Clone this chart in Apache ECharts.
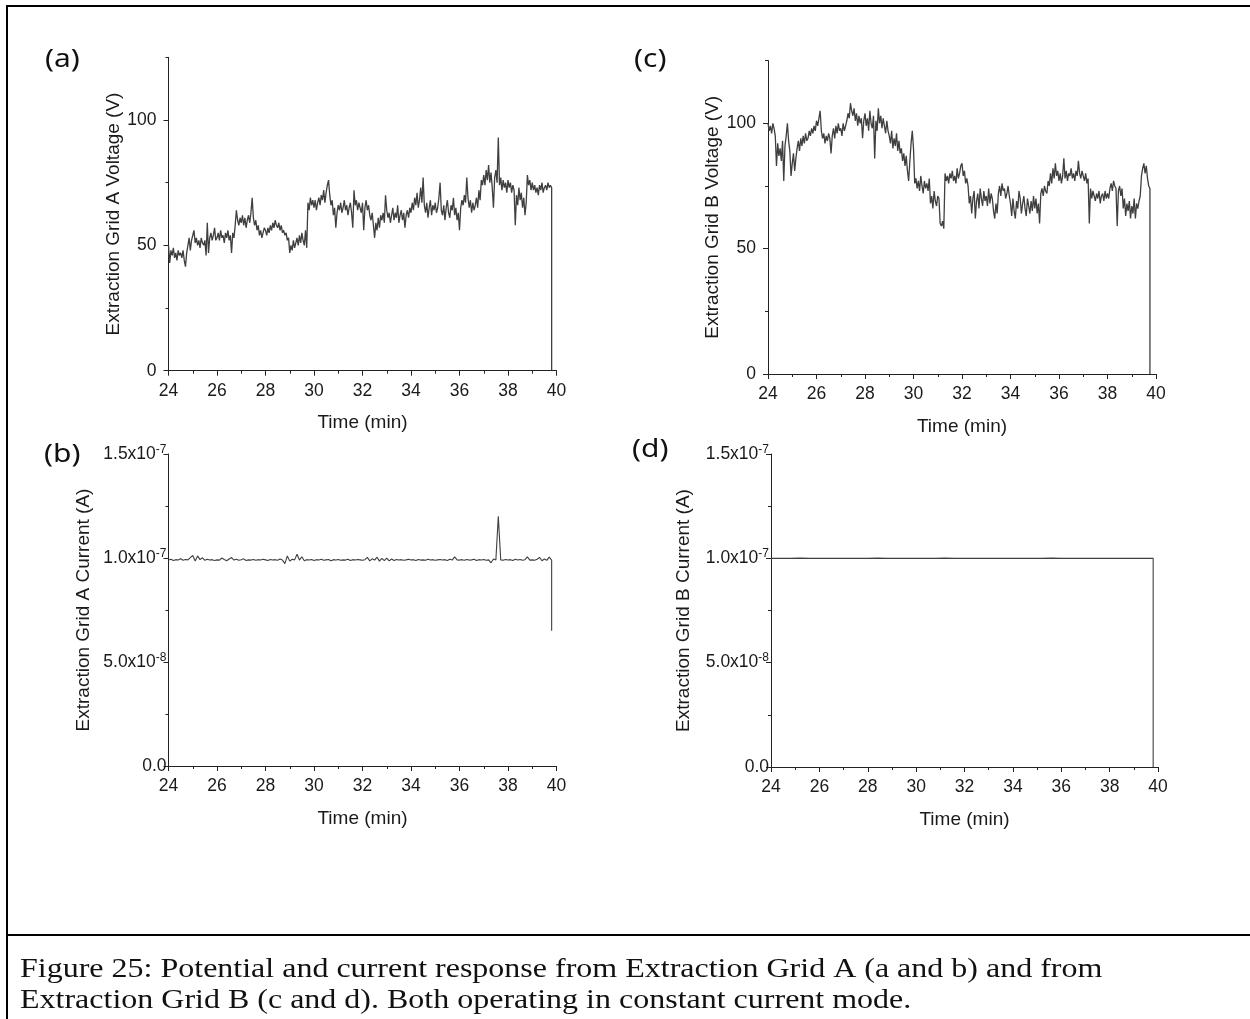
<!DOCTYPE html>
<html><head><meta charset="utf-8">
<script src="https://cdn.jsdelivr.net/npm/echarts@6/dist/echarts.min.js"></script>
<style>html,body{margin:0;padding:0;background:#fff}#c{width:1250px;height:1019px}</style>
</head><body><div id="c"></div><script>
// ---------------- DATA ----------------
const timeStart = 24.0;
const voltageStep = 0.05;     // min between voltage samples
const currentStepA = 0.1;     // min between grid A current samples
const currentStepB = 0.4;     // min between grid B current samples

// Extraction Grid A voltage (V), 24.00 .. 39.80 min
const gridA_voltage_V = [
 50,43,48,46,49,45,47,44,48,46,47,45,48,44,41.5,47,50,53,48,52,
 54,56,51,53,50,52,49,53,51,50,52,46,59,47,53,55,52,54,57,52,
 53,55,52,56,53,54,51,55,53,56,52,54,47,55,53,58,64,60,58,61,
 59,62,58,61,57,60,62,59,63,69,61,58,60,56,58,54,56,53,55,57,
 56,54,57,55,58,56,59,57,60,58,57,59,56,58,55,56,54,55,52,53,
 47,50,48,52,49,51,53,50,54,51,55,52,50,56,49,67,64,69,66,68,
 65,68,64,67,69,66,70,68,72,67,71,74,76,70,66,68,62,65,57,63,
 66,64,67,63,65,68,64,66,62,65,67,63,57,72,66,68,64,67,65,63,
 67,56,65,68,64,66,62,60,63,58,53,59,56,61,57,62,60,63,59,70,
 64,61,63,59,62,65,60,63,61,66,59,62,64,60,63,57,62,64,61,65,
 63,67,64,69,66,71,65,68,73,67,77,66,63,67,61,65,68,62,66,64,
 67,63,65,69,75,64,62,66,60,65,68,63,61,66,64,69,62,65,60,63,
 56,65,68,66,70,67,77,69,65,68,63,67,64,66,69,65,72,68,76,74,
 78,74,80,76,82,75,79,73,65,77,80,75,93,74,77,72,76,73,75,71,
 76,73,75,71,74,72,58,70,66,73,68,71,65,69,62,67,78,74,76,72,
 75,72,74,71,73,70,74,72,75,71,73,74,72,75,73,74,73
];
const gridA_voltage_end = [[39.80, 0]];

// Extraction Grid B voltage (V), 24.00 .. 39.75 min
const gridB_voltage_V = [
 100,97,99,96,100,98,95,83,92,87,90,85,93,77,91,95,100,93,89,79,
 84,88,81,86,90,93,89,94,91,95,92,96,93,94,97,95,98,96,99,97,
 101,99,102,105,97,94,96,92,95,93,96,94,88,95,98,94,99,96,100,97,
 98,95,100,97,99,101,104,102,108,105,103,106,101,104,99,103,100,102,94,101,
 104,99,102,97,105,100,98,103,86,101,97,106,100,103,98,102,99,96,101,97,
 95,92,97,90,94,91,96,89,93,88,90,85,88,83,87,81,77,85,92,97,
 90,76,78,74,77,73,79,75,72,77,74,76,73,78,68,71,66,73,69,67,
 71,70,60,59,61,58,80,77,79,76,80,78,81,77,79,76,82,78,80,83,
 84,79,81,76,78,75,68,71,64,70,73,62,69,72,66,74,70,67,73,69,
 71,67,74,68,72,70,65,62,68,64,72,75,71,76,73,74,70,72,75,71,
 68,63,70,65,62,69,66,73,70,64,68,71,66,63,70,67,64,69,65,71,
 66,70,64,68,60,72,74,71,75,73,72,77,75,80,76,82,78,84,79,81,
 77,80,76,79,86,78,81,77,80,79,82,78,80,77,81,79,85,80,78,81,
 79,77,80,76,78,60,74,70,73,71,69,72,70,73,68,71,72,69,73,70,
 72,70,74,76,73,77,75,74,59,73,75,71,74,66,70,63,68,65,69,62,
 67,64,70,62,68,66,69,71,79,82,84,80,83,78,75,74
];
const gridB_voltage_end = [[39.75, 0]];

// Extraction Grid A current (nA), 24.0 .. 39.8 min
const gridA_current_nA = [
 99,99.4,98.8,99.2,99,99.6,98.9,99.3,99.1,100.2,
 101.2,98.6,101.0,99.2,100.1,98.9,99.4,99.0,99.2,98.8,
 99.1,99.0,100.0,99.3,98.7,99.5,100.2,99.0,99.4,98.9,
 99.2,99.6,98.8,99.1,99.0,99.3,98.9,99.2,99.0,99.4,
 99.1,98.8,99.3,99.0,99.2,98.9,99.5,99.0,97.3,101.0,
 98.5,99.4,99.1,101.8,99.0,100.6,98.7,99.2,99.0,99.3,
 98.8,99.2,99.0,99.4,98.9,99.1,99.3,98.7,99.2,99.0,
 99.3,98.9,99.1,99.0,99.4,98.8,99.2,99.0,99.3,99.1,
 98.9,99.2,100.3,98.6,99.6,99.0,100.4,98.5,99.8,98.7,
 99.9,98.6,99.5,98.8,99.3,99.0,99.2,98.9,99.1,99.4,
 99.0,99.2,98.8,99.3,99.0,99.1,98.9,99.4,99.0,99.2,
 98.9,99.1,99.3,99.0,99.2,98.8,99.4,99.0,100.5,99.1,
 99.0,99.2,98.9,99.3,99.0,99.1,99.4,98.8,99.2,99.0,
 99.3,98.9,99.1,97.7,99.5,99.0,120.0,99.1,98.9,99.3,
 99.0,99.2,98.8,99.4,99.0,99.3,98.9,99.2,100.5,99.0,
 99.1,98.9,99.4,100.3,98.7,99.5,98.9,100.4,99.0
];
const gridA_current_end_nA = [[39.8, 65]];

// Extraction Grid B current (nA), 24.0 .. 39.6 min
const gridB_current_nA = [
 100.0,100.0,100.0,100.1,100.0,100.0,100.0,100.0,100.0,100.0,
 100.0,100.1,100.0,100.0,100.0,100.0,100.0,100.0,100.1,100.0,
 100.0,100.0,100.0,100.0,100.0,100.0,100.0,100.0,100.0,100.1,
 100.0,100.0,100.0,100.0,100.0,100.0,100.0,100.0,100.0,100.0
];
const gridB_current_end_nA = [[39.8, 100.0], [39.8, 0]];

// Axis ticks / labels
const timeTicks = [24, 26, 28, 30, 32, 34, 36, 38, 40];
const voltageMajorTicks = [0, 50, 100];
const voltageMinorTicks = [25, 75, 125];
const currentTicksA = [0, 5e-8, 1e-7, 1.5e-7];

// ---------------- BUILD ----------------
function series(vals, start, step, tail, scale) {
  const s = scale || 1;
  const out = vals.map((v, i) => [+(start + i * step).toFixed(3), v * s]);
  tail.forEach(p => out.push([p[0], p[1] * s]));
  return out;
}
const nA = 1e-9;

const FONT = "'Liberation Sans', Arial, sans-serif";
const TXT = '#1a1a1a';
const AX = '#222';
const LINE = '#3f3f3f';
const TICKFS = 17.5;
const NAMEFS = 19;

const grids = [
  {left: 168.5, top: 57.3, width: 388, height: 313.4},   // a
  {left: 768,   top: 60.6, width: 388, height: 313.4},   // c
  {left: 168.5, top: 454,  width: 388, height: 312},     // b
  {left: 771,   top: 454,  width: 387, height: 313}      // d
];

function xAxis(gi) {
  return {
    type: 'value', gridIndex: gi, min: timeTicks[0], max: timeTicks[timeTicks.length - 1], interval: 2,
    name: 'Time (min)', nameLocation: 'middle', nameGap: 43,
    nameTextStyle: {fontFamily: FONT, fontSize: NAMEFS, color: TXT},
    axisLine: {show: true, onZero: false, lineStyle: {color: AX, width: 1}},
    axisTick: {show: true, length: 5, lineStyle: {color: AX}},
    minorTick: {show: true, splitNumber: 2, length: 3, lineStyle: {color: AX}},
    splitLine: {show: false}, minorSplitLine: {show: false},
    axisLabel: {fontFamily: FONT, fontSize: TICKFS, color: TXT, margin: 11}
  };
}
function voltAxis(gi, name, gap) {
  return {
    type: 'value', gridIndex: gi, min: 0, max: 125, interval: 25, position: 'left',
    name: name, nameLocation: 'middle', nameGap: gap, nameRotate: 90,
    nameTextStyle: {fontFamily: FONT, fontSize: NAMEFS, color: TXT},
    axisLine: {show: true, onZero: false, lineStyle: {color: AX, width: 1}},
    axisTick: {show: true, length: 5, customValues: voltageMajorTicks, lineStyle: {color: AX}},
    splitLine: {show: false},
    axisLabel: {fontFamily: FONT, fontSize: TICKFS, color: TXT, margin: 12, customValues: voltageMajorTicks}
  };
}
function voltMinorAxis(gi) {
  return {
    type: 'value', gridIndex: gi, min: 0, max: 125, interval: 25, position: 'left', offset: 0,
    axisLine: {show: false},
    axisTick: {show: true, length: 3, customValues: voltageMinorTicks, lineStyle: {color: AX}},
    axisLabel: {show: false}, splitLine: {show: false}
  };
}
function sciLabel(v) {
  if (Math.abs(v) < 1e-15) return '{m|0.0}';
  const e = Math.floor(Math.log10(v) + 1e-9);
  const m = v / Math.pow(10, e);
  return '{m|' + m.toFixed(1) + 'x10}{e|' + e + '}';
}
function currAxis(gi, name, gap) {
  return {
    type: 'value', gridIndex: gi, min: currentTicksA[0], max: currentTicksA[3], interval: 5e-8, position: 'left',
    name: name, nameLocation: 'middle', nameGap: gap, nameRotate: 90,
    nameTextStyle: {fontFamily: FONT, fontSize: NAMEFS, color: TXT},
    axisLine: {show: true, onZero: false, lineStyle: {color: AX, width: 1}},
    axisTick: {show: true, length: 5, lineStyle: {color: AX}},
    minorTick: {show: true, splitNumber: 2, length: 3, lineStyle: {color: AX}},
    splitLine: {show: false}, minorSplitLine: {show: false},
    axisLabel: {
      margin: 2, formatter: sciLabel,
      rich: {
        m: {fontFamily: FONT, fontSize: TICKFS, color: TXT, lineHeight: 21},
        e: {fontFamily: FONT, fontSize: 12, color: TXT, lineHeight: 12, verticalAlign: 'top'}
      }
    }
  };
}

function lineSeries(xi, yi, data, w) {
  return {type: 'line', xAxisIndex: xi, yAxisIndex: yi, data: data, symbol: 'none', showSymbol: false,
          lineStyle: {color: LINE, width: w}, animation: false, silent: true};
}

const panelLabelStyle = {fontFamily: "'Noto Sans', 'Open Sans', sans-serif", fontSize: 30, fill: '#111',
                         textAlign: 'left', textVerticalAlign: 'middle', x: 0, y: 0};
const captionStyle = {fontFamily: "'Liberation Serif', 'Times New Roman', serif", fontSize: 32, fill: '#111',
                      textAlign: 'left', textVerticalAlign: 'middle', x: 0, y: 0};
function txt(text, x, y, style, sy) {
  return {type: 'text', x: x, y: y, scaleY: sy, style: Object.assign({text: text}, style)};
}

const option = {
  backgroundColor: '#fff',
  animation: false,
  grid: grids,
  xAxis: [xAxis(0), xAxis(1), xAxis(2), xAxis(3)],
  yAxis: [
    voltAxis(0, 'Extraction Grid A Voltage (V)', 42),
    voltAxis(1, 'Extraction Grid B Voltage (V)', 46),
    currAxis(2, 'Extraction Grid A Current (A)', 75),
    currAxis(3, 'Extraction Grid B Current (A)', 78),
    voltMinorAxis(0),
    voltMinorAxis(1)
  ],
  series: [
    lineSeries(0, 0, series(gridA_voltage_V, timeStart, voltageStep, gridA_voltage_end), 1.3),
    lineSeries(1, 1, series(gridB_voltage_V, timeStart, voltageStep, gridB_voltage_end), 1.3),
    lineSeries(2, 2, series(gridA_current_nA, timeStart, currentStepA, gridA_current_end_nA, nA), 1.1),
    lineSeries(3, 3, series(gridB_current_nA, timeStart, currentStepB, gridB_current_end_nA, nA), 1.1)
  ],
  graphic: [
    {type: 'line', shape: {x1: 7, y1: 6, x2: 1250, y2: 6}, style: {stroke: '#000', lineWidth: 2}},
    {type: 'line', shape: {x1: 7, y1: 5, x2: 7, y2: 1019}, style: {stroke: '#000', lineWidth: 2}},
    {type: 'line', shape: {x1: 7, y1: 935, x2: 1250, y2: 935}, style: {stroke: '#000', lineWidth: 2}},
    txt('(a)', 45, 60, panelLabelStyle, 0.86),
    txt('(c)', 634, 60, panelLabelStyle, 0.86),
    txt('(b)', 44, 455, panelLabelStyle, 0.86),
    txt('(d)', 632, 450, panelLabelStyle, 0.86),
    txt('Figure 25: Potential and current response from Extraction Grid A (a and b) and from', 20, 970, captionStyle, 0.84),
    txt('Extraction Grid B (c and d). Both operating in constant current mode.', 20, 1001, captionStyle, 0.84)
  ]
};
const chart = echarts.init(document.getElementById('c'), null, {renderer: 'canvas'});
chart.setOption(option);
</script></body></html>
